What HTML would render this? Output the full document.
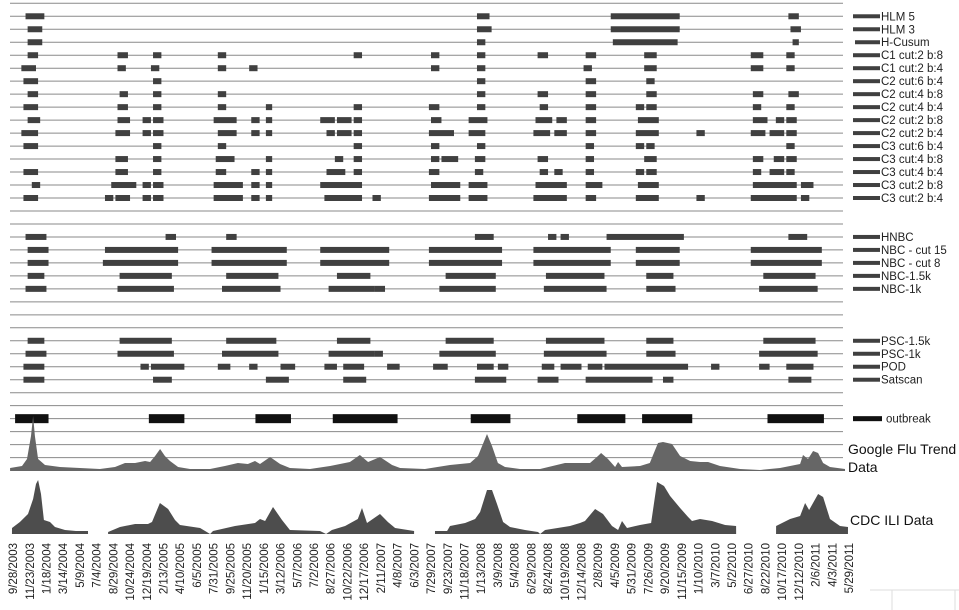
<!DOCTYPE html>
<html><head><meta charset="utf-8">
<style>
html,body{margin:0;padding:0;background:#fff;}
svg{display:block;font-family:"Liberation Sans",sans-serif;}
</style></head>
<body>
<svg id="chart" width="959" height="610" viewBox="0 0 959 610" xmlns="http://www.w3.org/2000/svg">
<g id="grid"></g>
<g id="bars"></g>
<g id="areas"></g>
<g id="legend"></g>
<g id="xaxis"></g>
<line x1="870" y1="590" x2="959" y2="590" stroke="#ddd"/>
<line x1="892" y1="590" x2="892" y2="610" stroke="#ddd"/>
<line x1="955" y1="590" x2="955" y2="610" stroke="#ddd"/>
<text x="848" y="454" font-family="'Liberation Sans',sans-serif" font-size="14" fill="#111">Google Flu Trend</text>
<text x="848" y="472" font-size="14" fill="#111">Data</text>
<text x="850" y="525" font-size="14" fill="#111">CDC ILI Data</text>
</svg>
<script>
const rowNames = ["HLM 5","HLM 3","H-Cusum","C1 cut:2 b:8","C1 cut:2 b:4","C2 cut:6 b:4","C2 cut:4 b:8","C2 cut:4 b:4","C2 cut:2 b:8","C2 cut:2 b:4","C3 cut:6 b:4","C3 cut:4 b:8","C3 cut:4 b:4","C3 cut:2 b:8","C3 cut:2 b:4","HNBC","NBC - cut 15","NBC - cut 8","NBC-1.5k","NBC-1k","PSC-1.5k","PSC-1k","POD","Satscan","outbreak"];
const rowSlots = [1,2,3,4,5,6,7,8,9,10,11,12,13,14,15,18,19,20,21,22,26,27,28,29,32];
const rowIntervals = [
 [[6,15],[222,228],[286,319],[371,376]],
 [[7,14],[222,229],[286,319],[372,377]],
 [[7,14],[222,226],[287,318],[373,376]],
 [[7,12],[50,55],[67,71],[98,102],[163,167],[200,204],[222,226],[251,256],[274,279],[302,308],[353,359],[370,374]],
 [[4,11],[50,54],[66,70],[98,102],[113,117],[200,204],[222,226],[273,277],[302,308],[353,359],[370,374]],
 [[5,12],[67,71],[222,226],[274,279],[303,307]],
 [[7,12],[51,55],[67,71],[98,102],[222,226],[251,256],[274,279],[303,308],[354,359],[371,376]],
 [[5,12],[50,55],[67,71],[98,102],[121,124],[163,167],[199,204],[222,226],[252,256],[274,279],[298,302],[303,308],[354,358],[370,374]],
 [[7,13],[50,56],[62,66],[67,72],[96,107],[114,118],[121,124],[147,154],[155,162],[163,167],[200,205],[218,227],[250,258],[260,265],[274,279],[299,309],[354,361],[365,369],[370,375]],
 [[4,12],[49,56],[62,66],[67,72],[98,107],[114,118],[121,124],[150,154],[155,162],[163,167],[199,211],[218,226],[249,257],[259,265],[274,279],[298,309],[327,331],[353,360],[362,369],[370,375]],
 [[5,12],[67,71],[98,102],[163,167],[200,204],[222,226],[274,278],[298,302],[303,307],[370,374]],
 [[49,55],[67,71],[97,106],[121,124],[154,158],[163,167],[200,204],[205,213],[221,226],[251,256],[274,278],[302,308],[354,359],[364,369],[370,375]],
 [[5,12],[49,55],[67,71],[97,102],[114,118],[121,124],[150,159],[163,167],[199,204],[221,225],[252,256],[259,263],[274,278],[298,302],[303,308],[354,358],[362,369],[370,374]],
 [[9,13],[47,59],[62,66],[67,72],[96,110],[114,118],[121,124],[147,167],[200,214],[218,227],[250,265],[274,282],[299,309],[354,375],[377,383]],
 [[5,12],[44,48],[49,56],[62,66],[67,72],[96,110],[114,118],[121,124],[149,167],[172,176],[199,214],[218,227],[249,265],[274,279],[298,309],[327,331],[353,375],[377,381]],
 [[6,16],[73,78],[102,107],[221,230],[256,260],[262,266],[284,321],[371,380]],
 [[7,17],[44,79],[95,131],[147,180],[199,234],[249,286],[298,319],[353,387]],
 [[7,17],[43,79],[95,131],[147,180],[199,234],[249,286],[298,319],[353,387]],
 [[7,15],[51,76],[102,127],[155,171],[207,231],[255,283],[303,316],[359,384]],
 [[6,16],[50,77],[100,128],[151,173],[173,178],[204,231],[254,284],[303,317],[357,385]],
 [[7,15],[51,76],[102,126],[155,171],[207,230],[255,283],[303,316],[359,384]],
 [[6,16],[50,77],[100,127],[151,173],[173,177],[204,231],[254,284],[303,317],[357,385]],
 [[5,15],[61,65],[66,82],[98,104],[113,117],[128,135],[149,155],[158,168],[179,185],[201,208],[222,230],[232,237],[253,259],[262,272],[275,282],[283,323],[334,338],[357,362],[370,383]],
 [[5,15],[67,76],[121,132],[158,169],[221,236],[251,261],[274,306],[311,316],[371,382]],
 [[1,17],[65,82],[116,133],[153,184],[219,238],[270,293],[301,325],[361,388]]
];
const gftWeeks = [-1.4,4.3,6.7,8.6,9.6,10.5,12,15.3,22.5,32,41.6,48.8,53.6,58.4,63.2,65.6,68,70.4,72.7,75.1,79,84.7,94.3,101.4,107.6,112.4,115.8,118.2,123,127.8,132.5,142.1,151.7,161.2,166,169.9,175.6,181.4,185.2,197.1,209.1,218.7,222.5,226.8,229.2,232,235.4,242.6,252.2,264.1,271.3,276.1,279.9,281.4,284.7,288.1,289.5,291.4,300,304.7,308.6,311,315.3,319.2,324,328.7,332.6,338.3,347.9,357.4,367,371.8,376.6,378,380.4,382.8,385.2,387.6,390.9,398.1];
const gftValues = [3,5,12,35,55,35,12,6,4,3,2,4,8,8,10,9,15,22,15,10,4,2,2,5,8,7,10,7,14,7,3,2,5,9,16,9,14,6,3,2,6,8,15,37,25,8,4,2,2,8,8,8,15,18,12,4,9,4,5,8,28,29,27,15,10,9,9,5,2,1,3,5,7,16,12,20,18,8,4,2];
const cdcWeeks = [-0.5,3.3,7.2,9.6,11,12,13.4,14.8,17.7,20.1,24.9,30.1,35.9,40,45.5,51.2,58.4,64.6,66.5,70.3,74.2,77.5,79.9,89.5,94.3,95.7,106.2,115.8,118.2,120.6,124.4,128.7,132.5,146.9,149.8,152.6,158.9,165,167,169.4,175.6,179.4,182.8,191.9,196,201.9,207.7,209.1,216.3,221.1,223.5,226.8,229.2,231.6,234.5,237.8,245,251.2,252.2,254.6,266.5,271.3,273.7,278.5,282.3,286.6,289.5,291.4,293.8,300,305.3,308.2,311.5,314.4,319.2,323,324.9,328.7,334.5,340.7,346,355,365.1,371.8,376.6,379,380.9,385.2,387.6,390.9,395.7,399.5];
const cdcValues = [6,12,20,35,50,54,40,14,12,7,4,3,3,null,2,7,10,10,12,31,25,14,9,6,0,3,8,11,15,13,27,14,4,3,0,4,8,15,26,11,20,12,6,3,null,3,3,8,11,15,22,44,44,30,12,7,4,2,0,4,8,11,13,25,20,8,4,13,6,9,11,52,48,38,26,17,13,15,13,9,8,null,8,15,18,31,24,40,37,15,8,7];
const xLabels = ["9/28/2003","11/23/2003","1/18/2004","3/14/2004","5/9/2004","7/4/2004","8/29/2004","10/24/2004","12/19/2004","2/13/2005","4/10/2005","6/5/2005","7/31/2005","9/25/2005","11/20/2005","1/15/2006","3/12/2006","5/7/2006","7/2/2006","8/27/2006","10/22/2006","12/17/2006","2/11/2007","4/8/2007","6/3/2007","7/29/2007","9/23/2007","11/18/2007","1/13/2008","3/9/2008","5/4/2008","6/29/2008","8/24/2008","10/19/2008","12/14/2008","2/8/2009","4/5/2009","5/31/2009","7/26/2009","9/20/2009","11/15/2009","1/10/2010","3/7/2010","5/2/2010","6/27/2010","8/22/2010","10/17/2010","12/12/2010","2/6/2011","4/3/2011","5/29/2011"];
const labelWeeks = [0,8,16,24,32,40,48,56,64,72,80,88,96,104,112,120,128,136,144,152,160,168,176,184,192,200,208,216,224,232,240,248,256,264,272,280,288,296,304,312,320,328,336,344,352,360,368,376,384,392,400];

const NS="http://www.w3.org/2000/svg";
const X0=13, PXW=2.09;
function xs(w){return X0+PXW*w;}
function ys(slot){return 3.3+12.98*slot;}
function gftY(v){return 471-v;}
function cdcY(v){return 534-v;}
function mk(tag,attrs,parent){const e=document.createElementNS(NS,tag);for(const k in attrs)e.setAttribute(k,attrs[k]);parent.appendChild(e);return e;}

const grid=document.getElementById('grid');
for(let k=0;k<=35;k++){
  const l=mk('line',{x1:10,x2:843,y1:ys(k),y2:ys(k),stroke:'#8a8a8a','stroke-width':1},grid);
  
  
}
const bars=document.getElementById('bars');
const legend=document.getElementById('legend');
rowNames.forEach((name,i)=>{
  const y=ys(rowSlots[i]);
  const isOut=name==='outbreak';
  const h=isOut?9:6;
  const col=isOut?'#111':'#404040';
  rowIntervals[i].forEach(iv=>{
    const r=mk('rect',{x:xs(iv[0]),y:y-h/2,width:xs(iv[1])-xs(iv[0]),height:h,fill:col},bars);
    
    
  });
  const lx=name==='H-Cusum'?855:853;
  const ll=mk('rect',{x:lx,y:y-(isOut?2.5:2),width:(isOut?29:27)-(lx-853),height:isOut?5:4,fill:col},legend);
  
  
  const t=mk('text',{x:isOut?886:881,y:y+4,'font-size':11.5,fill:'#222'},legend);
  t.textContent=name;
  
  
});

const areas=document.getElementById('areas');
function runs(ws,vs){const out=[];let cur=[];ws.forEach((w,i)=>{if(vs[i]===null){if(cur.length)out.push(cur);cur=[];}else cur.push([w,vs[i]]);});if(cur.length)out.push(cur);return out;}
function drawArea(ws,vs,yf,fill,name){
  runs(ws,vs).forEach(seg=>{
    let d='M'+xs(seg[0][0])+','+yf(0);
    seg.forEach(p=>{d+=' L'+xs(p[0]).toFixed(1)+','+yf(p[1]).toFixed(1);});
    d+=' L'+xs(seg[seg.length-1][0])+','+yf(0)+' Z';
    const p=mk('path',{d:d,fill:fill},areas);
    
    
  });
}
drawArea(gftWeeks,gftValues,gftY,'#666666','gft-area');
drawArea(cdcWeeks,cdcValues,cdcY,'#4d4d4d','cdc-area');

const xaxis=document.getElementById('xaxis');
xLabels.forEach((lab,i)=>{
  const x=xs(labelWeeks[i])+1;
  const t=mk('text',{x:0,y:0,transform:'translate('+x+',543) rotate(-90)','text-anchor':'end','dominant-baseline':'middle','font-size':11.5,fill:'#222'},xaxis);
  t.textContent=lab;
  
  
});
</script>
</body></html>
